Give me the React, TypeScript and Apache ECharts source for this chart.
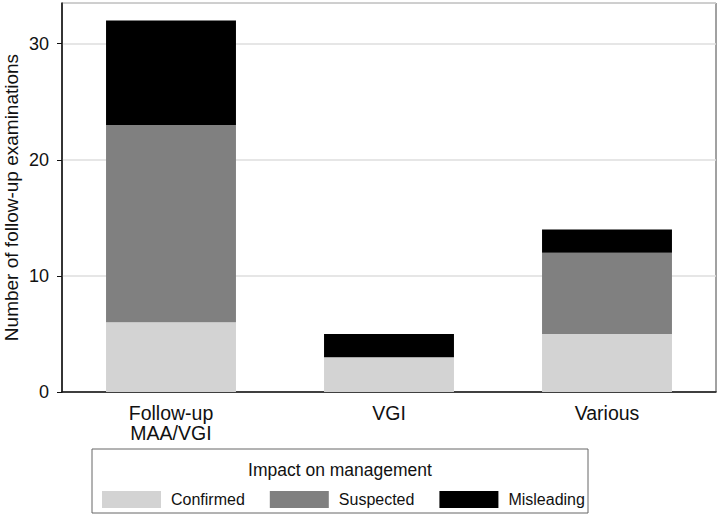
import React, { useEffect, useRef } from "react";
import * as echarts from "echarts";

const categories = ["Follow-up\nMAA/VGI", "VGI", "Various"];
const confirmed = [6, 3, 5];
const suspected = [17, 0, 7];
const misleading = [9, 2, 2];
const yTicks = [0, 10, 20, 30];

const FONT = "'Liberation Sans', Arial, sans-serif";

export default function App() {
  const ref = useRef<HTMLDivElement>(null);
  useEffect(() => {
    if (!ref.current) return;
    const chart = echarts.init(ref.current, null, { renderer: "svg" });
    const mk = (name: string, data: number[], color: string) => ({
      name,
      type: "bar",
      stack: "total",
      data,
      barWidth: "59.6%",
      itemStyle: { color },
      emphasis: { disabled: true },
    });
    chart.setOption({
      animation: false,
      textStyle: { fontFamily: FONT },
      grid: {
        left: 62,
        right: 3,
        top: 3,
        bottom: 123,
        show: true,
        borderColor: "#444",
        borderWidth: 1,
        containLabel: false,
        outerBoundsMode: "none",
      },
      xAxis: {
        type: "category",
        data: categories,
        axisLine: { show: true, lineStyle: { color: "#111", width: 1.5 } },
        axisTick: { show: false },
        axisLabel: {
          color: "#111",
          fontSize: 19.5,
          lineHeight: 20,
          margin: 11,
          fontFamily: FONT,
        },
      },
      yAxis: {
        type: "value",
        min: 0,
        max: 33.5,
        interval: 10,
        name: "Number of follow-up examinations",
        nameLocation: "middle",
        nameGap: 41,
        nameMoveOverlap: false,
        nameTextStyle: { fontSize: 19, color: "#111", fontFamily: FONT },
        axisLine: { show: true, lineStyle: { color: "#111", width: 1.5 } },
        axisTick: { show: true, length: 5, lineStyle: { color: "#111" } },
        axisLabel: {
          color: "#111",
          fontSize: 18,
          margin: 13,
          fontFamily: FONT,
          showMaxLabel: false,
          formatter: (v: number) => (yTicks.includes(v) ? String(v) : ""),
        },
        splitLine: { show: true, lineStyle: { color: "#dedede", width: 1.5 } },
      },
      legend: {
        left: 97,
        top: 486,
        itemWidth: 59,
        itemHeight: 17,
        itemGap: 25,
        icon: "rect",
        selectedMode: false,
        textStyle: {
          fontSize: 16,
          color: "#111",
          fontFamily: FONT,
          padding: [0, 0, 0, 5],
        },
        data: ["Confirmed", "Suspected", "Misleading"],
      },
      graphic: [
        {
          type: "rect",
          shape: { x: 92, y: 449, width: 496, height: 64 },
          style: { fill: "none", stroke: "#666", lineWidth: 1 },
          silent: true,
        },
        {
          type: "text",
          x: 340,
          y: 470,
          style: {
            text: "Impact on management",
            fontSize: 17.5,
            fontFamily: FONT,
            fill: "#111",
            align: "center",
            verticalAlign: "middle",
          },
          silent: true,
        },
      ],
      series: [
        mk("Confirmed", confirmed, "#d3d3d3"),
        mk("Suspected", suspected, "#808080"),
        mk("Misleading", misleading, "#000000"),
      ],
    });
    return () => chart.dispose();
  }, []);
  return <div ref={ref} style={{ width: 719, height: 515, position: "fixed", left: 0, top: 0, background: "#fff" }} />;
}
